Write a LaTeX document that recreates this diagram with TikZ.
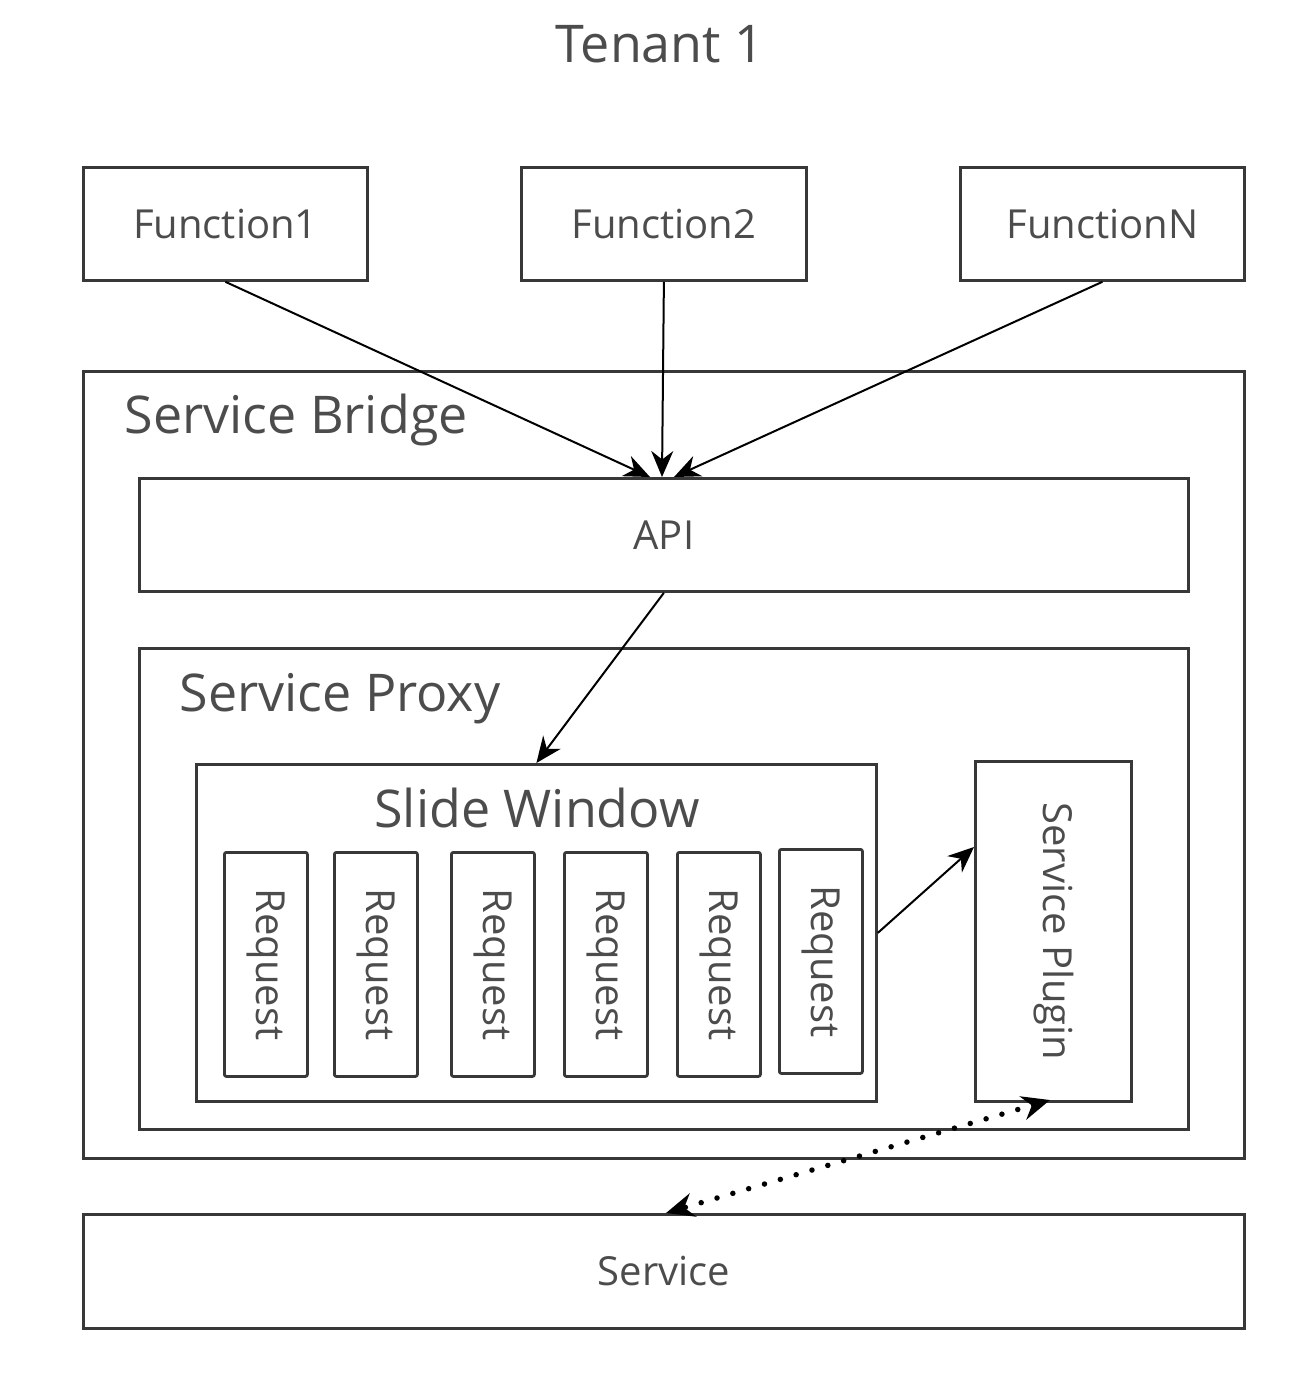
\documentclass[tikz,border=0pt]{standalone}
\usepackage{fontspec}
\setmainfont{Open Sans}
\usetikzlibrary{arrows.meta}
\definecolor{TxtClr}{gray}{0.3}
\definecolor{LineClr}{gray}{0.22}

\begin{document}
\begin{tikzpicture}[x=1pt,y=-1pt,
  box/.style={draw=LineClr,line width=2.8pt,inner sep=0pt,anchor=north west},
  lbl/.style={text=TxtClr,font=\fontsize{40}{48}\selectfont},
  big/.style={text=TxtClr,font=\fontsize{52}{62}\selectfont},
  link/.style={line width=2pt,-{Stealth[length=26pt,width=22pt]}},
  dots/.style={line width=5.5pt,line cap=round,dash pattern=on 0pt off 16.5pt,
    {Stealth[length=28pt,width=24pt]}-{Stealth[length=28pt,width=24pt]}}]
\useasboundingbox (0,0) rectangle (1316,1374);

\node[big,anchor=base] (tenant) at (660,62) {Tenant 1};

% functions
\node[box,lbl,minimum width=284pt,minimum height=113pt] (f1) at (82,166) {Function1};
\node[box,lbl,minimum width=285pt,minimum height=113pt] (f2) at (520,166) {Function2};
\node[box,lbl,minimum width=284pt,minimum height=113pt] (fn) at (959,166) {FunctionN};

% service bridge
\node[box,minimum width=1161pt,minimum height=787pt] (bridge) at (82,370) {};
\node[big,anchor=base west] (bridgelbl) at (121,433) {Service Bridge};
\node[box,lbl,minimum width=1049pt,minimum height=113pt] (api) at (138,477) {API};

% service proxy
\node[box,minimum width=1049pt,minimum height=481pt] (proxy) at (138,647) {};
\node[big,anchor=base west] (proxylbl) at (176,711) {Service Proxy};

\node[box,minimum width=680pt,minimum height=337pt] (sw) at (195,763) {};
\node[big,anchor=base] (swlbl) at (537,827) {Slide Window};
\foreach \x/\y [count=\i] in {223/851,333/851,450/851,563/851,676/851,778/848}{
  \node[box,rounded corners=2pt,minimum width=83pt,minimum height=224pt] (r\i) at (\x,\y) {};
  \node[lbl,rotate=-90] at (r\i) {Request};
}

\node[box,minimum width=156pt,minimum height=340pt] (plugin) at (974,760) {};
\node[lbl,rotate=-90] (pluginlbl) at (plugin) {Service Plugin};

\node[box,lbl,minimum width=1161pt,minimum height=114pt] (service) at (82,1213) {Service};

% connectors
\coordinate (a1) at (650,477);
\coordinate (a2) at (662,477);
\coordinate (a3) at (674,477);
\coordinate (p1) at (974,847);
\coordinate (p2) at (1050,1100);
\coordinate (s1) at (666,1213);

\draw[link] (f1.south) -- (a1);
\draw[link] (f2.south) -- (a2);
\draw[link] (fn.south) -- (a3);
\draw[link] (api.south) -- (sw.north);
\draw[link] (sw.east) -- (p1);
\draw[dots] (p2) -- (s1);

\end{tikzpicture}
\end{document}
